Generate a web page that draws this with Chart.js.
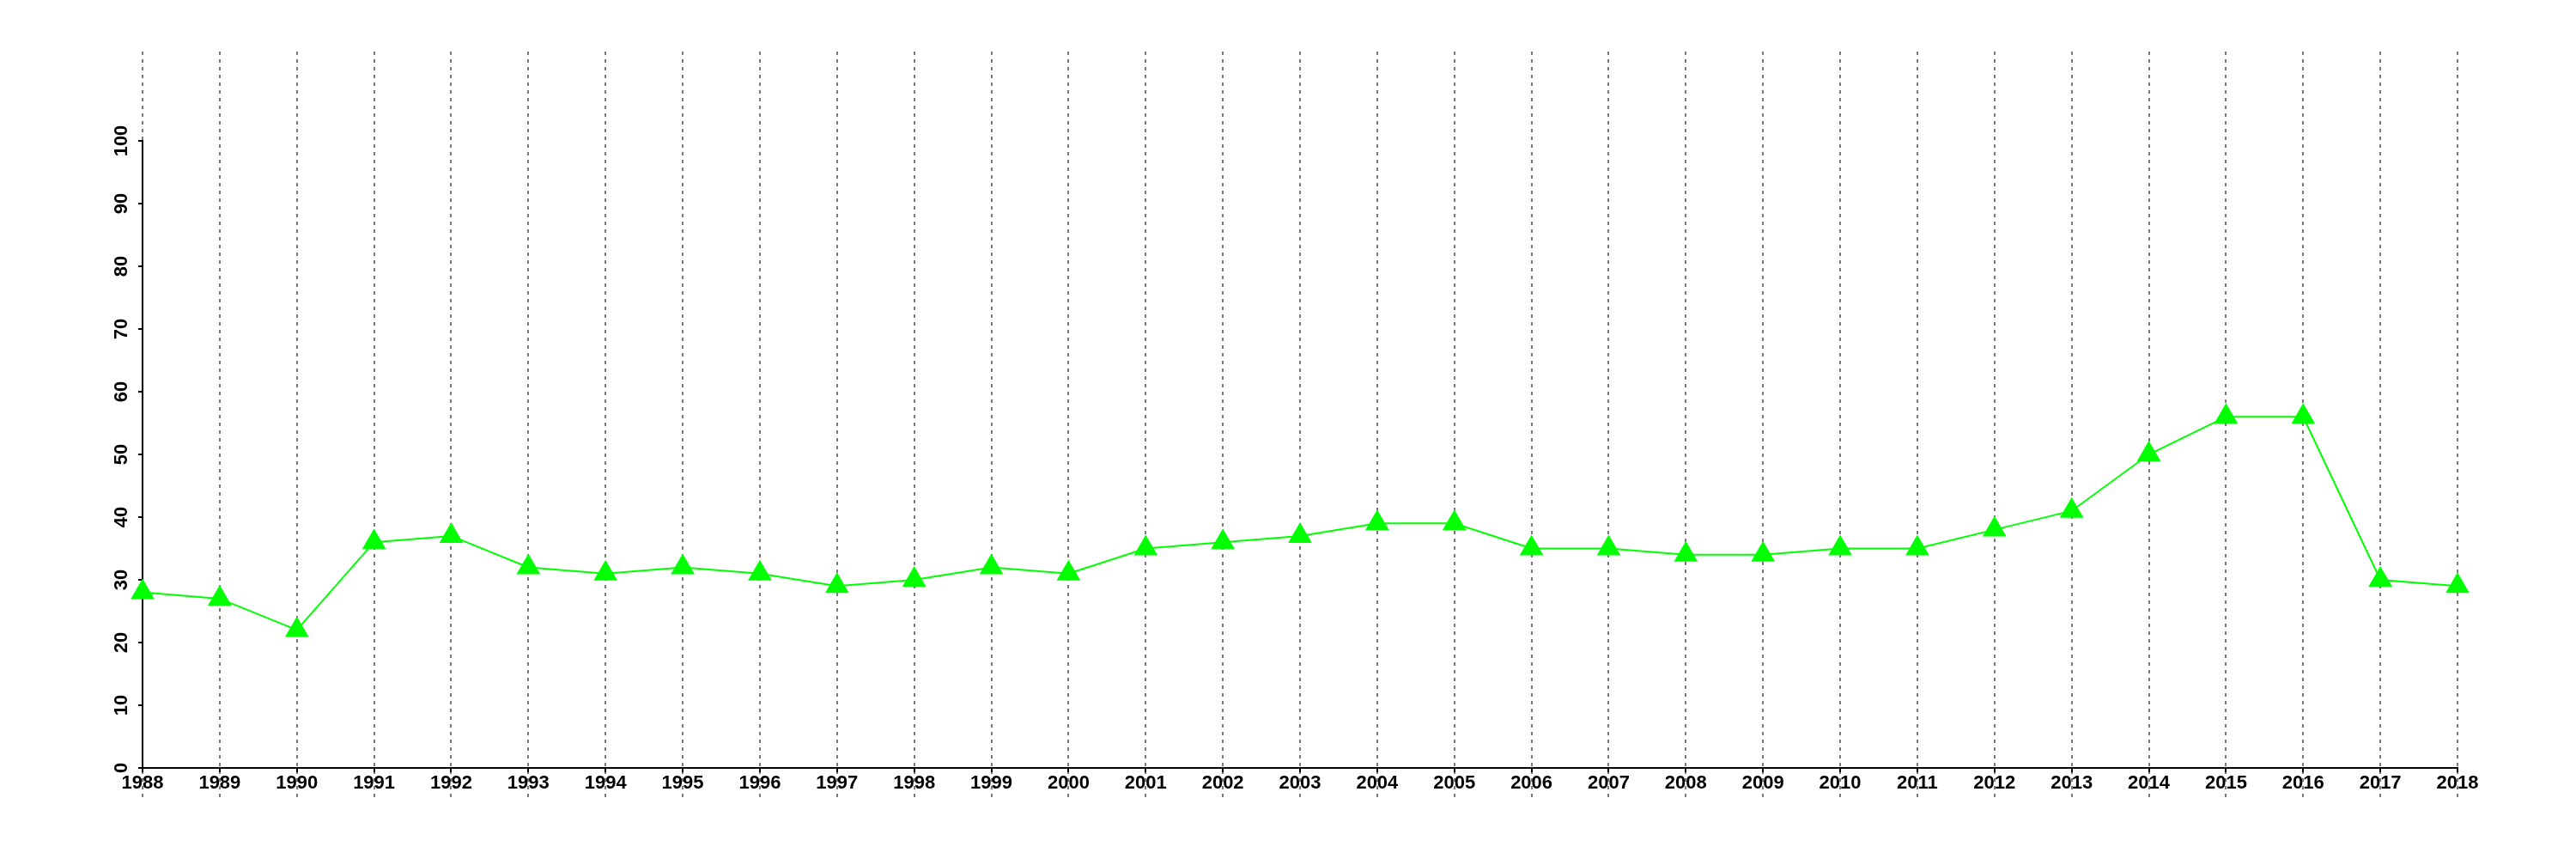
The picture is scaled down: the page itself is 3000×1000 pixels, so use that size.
<!DOCTYPE html>
<html>
<head>
<meta charset="utf-8">
<script src="https://cdn.jsdelivr.net/npm/chart.js@4/dist/chart.umd.min.js"></script>
<style>
  html, body { margin: 0; padding: 0; background: #ffffff; }
  #wrap { width: 3000px; height: 1000px; }
</style>
</head>
<body>
<div id="wrap"><canvas id="c" width="3000" height="1000"></canvas></div>
<script>
const years = ['1988','1989','1990','1991','1992','1993','1994','1995','1996','1997','1998','1999','2000','2001','2002','2003','2004','2005','2006','2007','2008','2009','2010','2011','2012','2013','2014','2015','2016','2017','2018'];
const values = [28,27,22,36,37,32,31,32,31,29,30,32,31,35,36,37,39,39,35,35,34,34,35,35,38,41,50,56,56,30,29];
const yMin = 0;
const yMax = 100;
const yStep = 10;

const FONT = { family: "'Liberation Sans', Arial, Helvetica, sans-serif", size: 22, weight: 'bold' };

const dashedYearLines = {
  id: 'dashedYearLines',
  beforeDraw(chart) {
    const xs = chart.scales.x, ys = chart.scales.y, ctx = chart.ctx;
    const top = ys.getPixelForValue(yMax) - 104;
    const bottom = ys.getPixelForValue(yMin) + 34;
    ctx.save();
    ctx.strokeStyle = '#7a7a7a';
    ctx.lineWidth = 2;
    ctx.setLineDash([4, 5]);
    years.forEach((_, i) => {
      const x = Math.round(xs.getPixelForValue(i));
      ctx.beginPath();
      ctx.moveTo(x, top);
      ctx.lineTo(x, bottom);
      ctx.stroke();
    });
    ctx.restore();
  }
};

new Chart(document.getElementById('c'), {
  type: 'line',
  data: {
    labels: years,
    datasets: [{
      data: values,
      borderColor: '#00ff00',
      backgroundColor: '#00ff00',
      borderWidth: 2,
      pointStyle: 'triangle',
      pointRadius: 16,
      pointBorderWidth: 0,
      pointBackgroundColor: '#00ff00',
      tension: 0,
      clip: false
    }]
  },
  options: {
    responsive: false,
    devicePixelRatio: 1,
    animation: false,
    layout: { padding: { top: 164, right: 138, bottom: 0, left: 0 } },
    plugins: { legend: { display: false }, tooltip: { enabled: false } },
    scales: {
      x: {
        type: 'category',
        offset: false,
        grid: { display: true, drawOnChartArea: false, drawTicks: true, tickLength: 5, color: '#000000', lineWidth: 2 },
        border: { display: true, color: '#000000', width: 2 },
        ticks: { color: '#000000', font: FONT, autoSkip: false, maxRotation: 0, minRotation: 0, padding: 0 },
        afterFit(scale) { scale.height = 106; }
      },
      y: {
        min: yMin,
        max: yMax,
        grid: { display: true, drawOnChartArea: false, drawTicks: true, tickLength: 5, color: '#000000', lineWidth: 2 },
        border: { display: true, color: '#000000', width: 2 },
        ticks: { stepSize: yStep, color: '#000000', font: FONT, minRotation: 90, maxRotation: 90, crossAlign: 'center', padding: 1 },
        afterFit(scale) { scale.width = 166; }
      }
    }
  },
  plugins: [dashedYearLines]
});
</script>
</body>
</html>
